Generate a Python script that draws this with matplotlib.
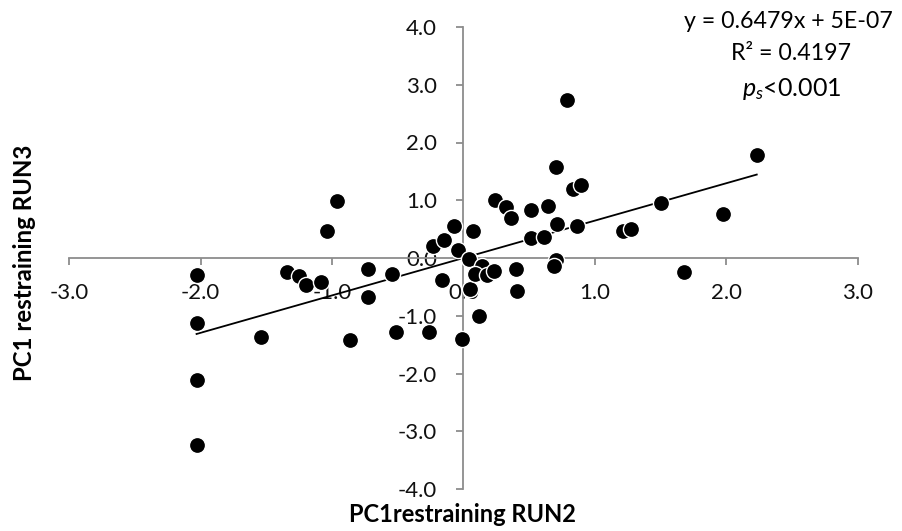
import matplotlib
matplotlib.use("Agg")
import matplotlib.pyplot as plt
import numpy as np

plt.rcParams['font.family'] = ['Lato', 'DejaVu Sans']
plt.rcParams['mathtext.fontset'] = 'custom'
plt.rcParams['mathtext.rm'] = 'Lato'
plt.rcParams['mathtext.it'] = 'Lato:italic'

# Data
run2 = [-2.03, -2.03, -2.03, -2.03, -1.54, -1.34, -1.25, -1.20, -1.08, -0.86,
        -1.04, -0.96, -0.73, -0.73, -0.54, -0.51, -0.26, -0.23, -0.15, -0.07,
        -0.04, -0.16, -0.01, 0.12, 0.05, 0.04, 0.14, 0.09, 0.18, 0.23,
        0.40, 0.41, 0.70, 0.69, 0.07, 0.24, 0.32, 0.36, 0.51, 0.64,
        0.71, 0.86, 0.51, 0.61, 0.70, 0.83, 0.89, 0.79, 1.21, 1.27,
        1.50, 1.97, 2.23, 1.68]
run3 = [-0.29, -1.13, -2.11, -3.24, -1.36, -0.24, -0.31, -0.47, -0.41, -1.42,
        0.46, 0.99, -0.19, -0.68, -0.28, -1.28, -1.28, 0.20, 0.31, 0.55,
        0.14, -0.38, -1.40, -1.00, -0.54, -0.01, -0.13, -0.27, -0.29, -0.22,
        -0.19, -0.58, -0.03, -0.13, 0.46, 1.01, 0.88, 0.69, 0.83, 0.90,
        0.59, 0.56, 0.34, 0.36, 1.58, 1.19, 1.27, 2.74, 0.47, 0.50,
        0.96, 0.76, 1.79, -0.24]
slope = 0.6479
intercept = 5e-07
x_ticks = [-3.0, -2.0, -1.0, 0.0, 1.0, 2.0, 3.0]
y_ticks = [-4.0, -3.0, -2.0, -1.0, 0.0, 1.0, 2.0, 3.0, 4.0]

W, H = 903, 531
fig = plt.figure(figsize=(W / 100, H / 100), dpi=100)
ax = fig.add_axes([69 / W, (H - 489) / H, 789 / W, 462 / H])

ax.set_xlim(-3, 3)
ax.set_ylim(-4, 4)

grey = '#8c8c8c'
for s in ['top', 'right']:
    ax.spines[s].set_visible(False)
ax.spines['left'].set_position(('data', 0))
ax.spines['bottom'].set_position(('data', 0))
for s in ['left', 'bottom']:
    ax.spines[s].set_color(grey)
    ax.spines[s].set_linewidth(1.3)

ax.set_xticks(x_ticks)
ax.set_yticks(y_ticks)
ax.set_xticklabels([f"{v:.1f}" for v in x_ticks])
ax.set_yticklabels([f"{v:.1f}" for v in y_ticks])
ax.tick_params(axis='x', direction='out', length=5, width=1.3, color=grey,
               labelsize=16, pad=13, labelcolor='#111111')
ax.tick_params(axis='y', direction='out', length=5, width=1.3, color=grey,
               labelsize=16, pad=14, labelcolor='#111111')

# trendline
xs = np.array([min(run2), max(run2)])
ax.plot(xs, slope * xs + intercept, color='black', lw=1.3, zorder=2)

ax.scatter(run2, run3, s=135, color='black', edgecolors='white',
           linewidths=1.0, zorder=3, clip_on=False)

fig.text(463 / W, 1 - 514 / H, "PC1restraining RUN2", ha='center', va='center',
         fontsize=17, fontweight='bold')
fig.text(25 / W, 1 - 263 / H, "PC1 restraining RUN3", ha='center', va='center',
         rotation=90, fontsize=17.3, fontweight='bold')

fig.text(893 / W, 1 - 22 / H, "y = 0.6479x + 5E-07", ha='right', va='center',
         fontsize=16.7)
fig.text(791 / W, 1 - 54 / H, "R² = 0.4197", ha='center', va='center',
         fontsize=16.7)
fig.text(792 / W, 1 - 86 / H, r"$p_s$<0.001", ha='center', va='center_baseline',
         fontsize=18)

fig.savefig("out.png", dpi=100)
